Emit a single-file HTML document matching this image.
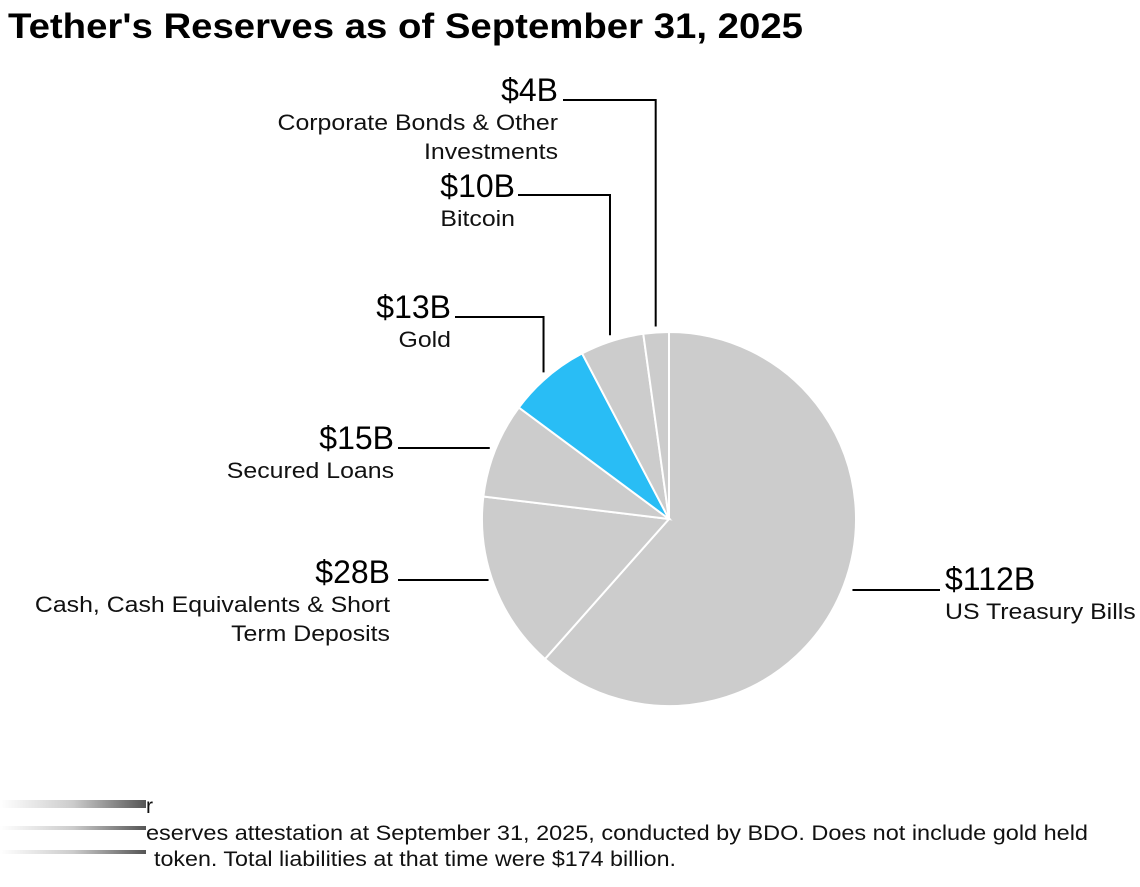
<!DOCTYPE html>
<html><head><meta charset="utf-8"><style>
body{margin:0;background:#fff;width:1140px;height:882px;overflow:hidden;font-family:"Liberation Sans",Arial,sans-serif}
</style></head><body>
<svg id="chart" width="1140" height="882" xmlns="http://www.w3.org/2000/svg">
<text x="8" y="38" font-size="35" font-weight="bold" fill="#000" textLength="795" lengthAdjust="spacingAndGlyphs">Tether's Reserves as of September 31, 2025</text>
<g id="pie"></g>
<g id="labels"></g>
<defs><linearGradient id="smear" x1="0" x2="1"><stop offset="0" stop-color="#fff"/><stop offset="0.5" stop-color="#ccc"/><stop offset="1" stop-color="#555"/></linearGradient></defs>
<rect x="0" y="800" width="146" height="8" fill="url(#smear)"/>
<rect x="0" y="826" width="146" height="4" fill="url(#smear)"/>
<rect x="0" y="850" width="146" height="4" fill="url(#smear)"/>
<text x="146" y="813" font-size="21" fill="#111">r</text>
<text x="146" y="840" font-size="21" fill="#111" textLength="942" lengthAdjust="spacingAndGlyphs">eserves attestation at September 31, 2025, conducted by BDO. Does not include gold held</text>
<text x="154" y="866" font-size="21" fill="#111" textLength="522" lengthAdjust="spacingAndGlyphs">token. Total liabilities at that time were $174 billion.</text>
</svg>
<script>
const categories=["US Treasury Bills","Cash, Cash Equivalents & Short Term Deposits","Secured Loans","Gold","Bitcoin","Corporate Bonds & Other Investments"];
const values=[112,28,15,13,10,4];
const valueLabels=["$112B","$28B","$15B","$13B","$10B","$4B"];
const colors=["#cccccc","#cccccc","#cccccc","#29bdf5","#cccccc","#cccccc"];
const NS="http://www.w3.org/2000/svg";
const cx=669,cy=519,r=187;
const total=values.reduce((a,b)=>a+b,0);
function pt(a,rr){return [cx+rr*Math.sin(a),cy-rr*Math.cos(a)];}
const pie=document.getElementById('pie');
let a0=0;const mids=[];
values.forEach((v,i)=>{
  const a1=a0+v/total*2*Math.PI;
  const p0=pt(a0,r),p1=pt(a1,r);
  const large=(a1-a0)>Math.PI?1:0;
  const p=document.createElementNS(NS,'path');
  p.setAttribute('d',`M${cx},${cy}L${p0[0]},${p0[1]}A${r},${r} 0 ${large} 1 ${p1[0]},${p1[1]}Z`);
  p.setAttribute('fill',colors[i]);p.setAttribute('stroke','#fff');p.setAttribute('stroke-width','2');
  
  
  pie.appendChild(p);
  mids.push((a0+a1)/2);a0=a1;
});
const layout=[
 {x:945,y:590,anchor:'start',lines:["US Treasury Bills"],lx:940,ly:590,horiz:true},
 {x:390,y:583,anchor:'end',lines:["Cash, Cash Equivalents & Short","Term Deposits"],lx:398,ly:580,horiz:true},
 {x:394,y:449,anchor:'end',lines:["Secured Loans"],lx:398,ly:448,horiz:true},
 {x:451,y:318,anchor:'end',lines:["Gold"],lx:455,ly:317,horiz:false},
 {x:515,y:197,anchor:'end',lines:["Bitcoin"],lx:518,ly:195,horiz:false},
 {x:558,y:101,anchor:'end',lines:["Corporate Bonds & Other","Investments"],lx:563,ly:100,horiz:false}
];
function stretch(t,f){const w=t.getComputedTextLength();t.setAttribute('textLength',(w*f).toFixed(1));t.setAttribute('lengthAdjust','spacingAndGlyphs');}
const lg=document.getElementById('labels');
layout.forEach((L,i)=>{
  const e=pt(mids[i],r+6);
  const pl=document.createElementNS(NS,'polyline');
  let pts;
  if(L.horiz){ pts=`${L.lx},${L.ly} ${L.anchor==='start'?e[0]+3:e[0]},${L.ly}`; }
  else { pts=`${L.lx},${L.ly} ${e[0]},${L.ly} ${e[0]},${e[1]}`; }
  pl.setAttribute('points',pts);pl.setAttribute('fill','none');pl.setAttribute('stroke','#000');pl.setAttribute('stroke-width','2');
  
  
  lg.appendChild(pl);
  const t=document.createElementNS(NS,'text');
  t.setAttribute('x',L.x);t.setAttribute('y',L.y);t.setAttribute('text-anchor',L.anchor);
  t.setAttribute('font-size','32');t.setAttribute('fill','#000');
  t.textContent=valueLabels[i];
  
  
  lg.appendChild(t);
  stretch(t,1.0);
  L.lines.forEach((s,j)=>{
    const c=document.createElementNS(NS,'text');
    c.setAttribute('x',L.x);c.setAttribute('y',L.y+29+j*29);c.setAttribute('text-anchor',L.anchor);
    c.setAttribute('font-size','22');c.setAttribute('fill','#111');
    c.textContent=s;
    
    
    lg.appendChild(c);
    stretch(c,1.13);
  });
});
</script>
</body></html>
